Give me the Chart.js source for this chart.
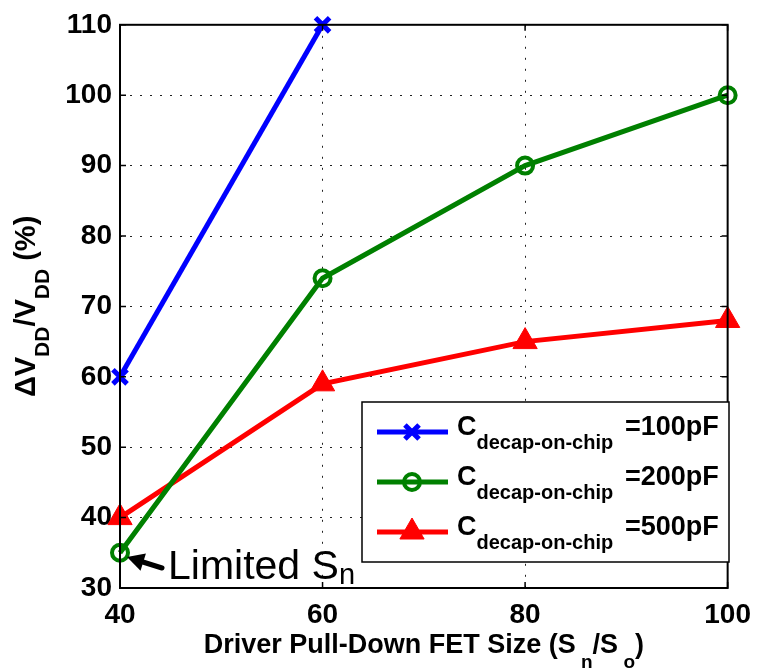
<!DOCTYPE html>
<html>
<head>
<meta charset="utf-8">
<script src="https://cdn.jsdelivr.net/npm/chart.js@4"></script>
<style>
  html, body { margin: 0; padding: 0; background: #fff; }
  #wrap { width: 761px; height: 670px; }
</style>
</head>
<body>
<div id="wrap"><canvas id="c" width="761" height="670"></canvas></div>
<script>
// --- Data ---
const sizes = [40, 60, 80, 100];
const dv100 = [60, 110];
const dv200 = [35, 74, 90, 100];
const dv500 = [40, 59, 65, 68];
const legendValues = ['=100pF', '=200pF', '=500pF'];

const FONT = '"Liberation Sans", Arial, sans-serif';

function pts(vals) {
    return vals.map((v, i) => ({ x: sizes[i], y: v }));
}

// draw text made of pieces with their own size / baseline shift
function richText(ctx, parts, x, y) {
    let cx = x;
    parts.forEach(p => {
        ctx.font = (p.w || 'bold') + ' ' + p.s + 'px ' + FONT;
        ctx.fillText(p.t, cx, y + (p.dy || 0));
        cx += ctx.measureText(p.t).width;
    });
    return cx;
}

// --- frame, inward ticks, titles, legend, annotation ---
const decor = {
    id: 'decor',
    afterDatasetsDraw(chart) {
        const ctx = chart.ctx;
        const a = chart.chartArea;
        const xs = chart.scales.x, ys = chart.scales.y;
        ctx.save();

        // axes box
        ctx.strokeStyle = '#000';
        ctx.lineWidth = 2;
        ctx.strokeRect(a.left, a.top, a.right - a.left, a.bottom - a.top);

        // inward tick marks on all four sides
        ctx.lineWidth = 1.5;
        ctx.beginPath();
        xs.ticks.forEach(t => {
            const px = xs.getPixelForValue(t.value);
            ctx.moveTo(px, a.bottom); ctx.lineTo(px, a.bottom - 6);
            ctx.moveTo(px, a.top); ctx.lineTo(px, a.top + 6);
        });
        ys.ticks.forEach(t => {
            const py = ys.getPixelForValue(t.value);
            ctx.moveTo(a.left, py); ctx.lineTo(a.left + 6, py);
            ctx.moveTo(a.right, py); ctx.lineTo(a.right - 6, py);
        });
        ctx.stroke();

        ctx.fillStyle = '#000';
        ctx.textBaseline = 'alphabetic';
        ctx.textAlign = 'left';

        // x title
        const xParts = [
            { t: 'Driver Pull-Down FET Size (S', s: 27 },
            { t: ' n', s: 19, dy: 15 },
            { t: '/S', s: 27 },
            { t: ' o', s: 19, dy: 15 },
            { t: ')', s: 27 }
        ];
        let wx = 0;
        xParts.forEach(p => { ctx.font = 'bold ' + p.s + 'px ' + FONT; wx += ctx.measureText(p.t).width; });
        richText(ctx, xParts, (a.left + a.right) / 2 - wx / 2, 653);

        // y title (rotated)
        const yParts = [
            { t: '\u0394V', s: 29 },
            { t: 'DD', s: 21, dy: 14 },
            { t: '/V', s: 29 },
            { t: 'DD', s: 21, dy: 14 },
            { t: ' (%)', s: 29 }
        ];
        let wy = 0;
        yParts.forEach(p => { ctx.font = 'bold ' + p.s + 'px ' + FONT; wy += ctx.measureText(p.t).width; });
        ctx.save();
        ctx.translate(35, (a.top + a.bottom) / 2);
        ctx.rotate(-Math.PI / 2);
        richText(ctx, yParts, -wy / 2, 0);
        ctx.restore();

        // legend
        const lx = 362, ly = 402, lw = 367, lh = 160;
        ctx.fillStyle = '#fff';
        ctx.fillRect(lx, ly, lw, lh);
        ctx.strokeStyle = '#000';
        ctx.lineWidth = 1.5;
        ctx.strokeRect(lx, ly, lw, lh);
        chart.data.datasets.forEach((ds, i) => {
            const cy = 432 + i * 50;
            ctx.strokeStyle = ds.borderColor;
            ctx.lineWidth = ds.borderWidth;
            ctx.beginPath();
            ctx.moveTo(377, cy); ctx.lineTo(448, cy);
            ctx.stroke();
            ctx.fillStyle = ds.pointBackgroundColor;
            ctx.strokeStyle = ds.pointBorderColor;
            ctx.lineWidth = ds.pointBorderWidth;
            Chart.helpers.drawPoint(ctx, {
                pointStyle: ds.pointStyle,
                radius: ds.pointRadius,
                borderWidth: ds.pointBorderWidth,
                rotation: 0
            }, 412, cy);
            ctx.fillStyle = '#000';
            richText(ctx, [
                { t: 'C', s: 27 },
                { t: 'decap-on-chip', s: 20, dy: 14 }
            ], 457, cy + 3);
            ctx.font = 'bold 27px ' + FONT;
            ctx.fillText(legendValues[i], 625, cy + 3);
        });

        // "Limited Sn" annotation with arrow
        ctx.fillStyle = '#000';
        richText(ctx, [
            { t: 'Limited S', s: 41, w: 'normal' },
            { t: 'n', s: 29, w: 'normal', dy: 5 }
        ], 168, 579);
        const tip = { x: 127, y: 557 }, tail = { x: 162, y: 568 };
        const dx = tail.x - tip.x, dy = tail.y - tip.y, L = Math.hypot(dx, dy);
        const ux = dx / L, uy = dy / L;
        const hb = { x: tip.x + ux * 17, y: tip.y + uy * 17 };
        ctx.strokeStyle = '#000';
        ctx.lineWidth = 5;
        ctx.lineCap = 'round';
        ctx.beginPath();
        ctx.moveTo(hb.x - ux * 2, hb.y - uy * 2);
        ctx.lineTo(tail.x, tail.y);
        ctx.stroke();
        ctx.beginPath();
        ctx.moveTo(tip.x, tip.y);
        ctx.lineTo(hb.x - uy * 9, hb.y + ux * 9);
        ctx.lineTo(hb.x + uy * 9, hb.y - ux * 9);
        ctx.closePath();
        ctx.fill();

        ctx.restore();
    }
};

const tickFont = { family: FONT, size: 28, weight: 'bold' };

new Chart(document.getElementById('c'), {
    type: 'line',
    data: {
        datasets: [
            {
                label: 'Cdecap-on-chip=100pF',
                data: pts(dv100),
                borderColor: '#0000ff',
                backgroundColor: '#0000ff',
                borderWidth: 5,
                pointStyle: 'crossRot',
                pointRadius: 10,
                pointBorderWidth: 5,
                pointBackgroundColor: '#0000ff',
                pointBorderColor: '#0000ff',
                clip: false
            },
            {
                label: 'Cdecap-on-chip=200pF',
                data: pts(dv200),
                borderColor: '#008000',
                backgroundColor: '#008000',
                borderWidth: 5,
                pointStyle: 'circle',
                pointRadius: 8,
                pointBorderWidth: 4,
                pointBackgroundColor: 'rgba(0,0,0,0)',
                pointBorderColor: '#008000',
                clip: false
            },
            {
                label: 'Cdecap-on-chip=500pF',
                data: pts(dv500),
                borderColor: '#ff0000',
                backgroundColor: '#ff0000',
                borderWidth: 5,
                pointStyle: 'triangle',
                pointRadius: 14,
                pointBorderWidth: 1,
                pointBackgroundColor: '#ff0000',
                pointBorderColor: '#ff0000',
                clip: false
            }
        ]
    },
    options: {
        responsive: false,
        animation: false,
        devicePixelRatio: 1,
        layout: { padding: { left: 0, top: 20, right: 29, bottom: 0 } },
        plugins: { legend: { display: false }, tooltip: { enabled: false } },
        elements: { line: { tension: 0 } },
        scales: {
            x: {
                type: 'linear',
                min: 40, max: 100,
                ticks: { stepSize: 20, color: '#000', font: tickFont, padding: 10 },
                grid: { color: '#222', lineWidth: 1, drawTicks: false },
                border: { display: false, dash: [2, 9] },
                afterFit(s) { s.height = 82; }
            },
            y: {
                min: 30, max: 110,
                ticks: { stepSize: 10, color: '#000', font: tickFont, padding: 8 },
                grid: { color: '#222', lineWidth: 1, drawTicks: false },
                border: { display: false, dash: [2, 8] },
                afterFit(s) { s.width = 120; }
            }
        }
    },
    plugins: [decor]
});
</script>
</body>
</html>
